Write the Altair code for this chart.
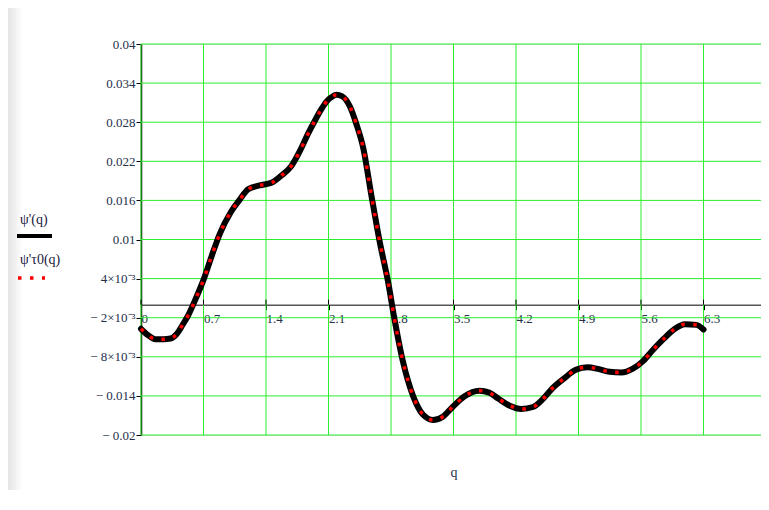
import altair as alt
import pandas as pd

# ---- data ----
q_vals = [0.0, 0.08, 0.16, 0.25, 0.33, 0.40, 0.47, 0.53, 0.60, 0.70, 0.79, 0.88,
          1.01, 1.11, 1.20, 1.33, 1.46, 1.58, 1.68, 1.78, 1.87, 1.95, 2.02, 2.08,
          2.14, 2.19, 2.25, 2.34, 2.41, 2.49, 2.58, 2.67, 2.77, 2.84, 2.93, 3.05,
          3.16, 3.27, 3.38, 3.49, 3.62, 3.79, 3.90, 4.00, 4.13, 4.26, 4.39, 4.50,
          4.61, 4.74, 4.87, 5.00, 5.13, 5.25, 5.38, 5.51, 5.62, 5.73, 5.85, 5.98,
          6.09, 6.22, 6.30]
psi_vals = [-0.0037, -0.0047, -0.0053, -0.0053, -0.0052, -0.0045, -0.0030, -0.0016,
            0.0005, 0.0038, 0.0074, 0.0108, 0.0143, 0.0162, 0.0177, 0.0183, 0.0187,
            0.0199, 0.0212, 0.0236, 0.0262, 0.0283, 0.0300, 0.0312, 0.0319, 0.0322,
            0.0320, 0.0304, 0.0278, 0.0240, 0.0168, 0.0099, 0.0033, -0.0023, -0.0085,
            -0.0141, -0.0169, -0.0177, -0.0172, -0.0157, -0.0141, -0.0132, -0.0135,
            -0.0144, -0.0155, -0.0160, -0.0157, -0.0145, -0.0128, -0.0113, -0.0100,
            -0.0096, -0.0099, -0.0103, -0.0104, -0.0098, -0.0087, -0.0070, -0.0053,
            -0.0037, -0.0030, -0.0031, -0.0038]

x_ticks = [0, 0.7, 1.4, 2.1, 2.8, 3.5, 4.2, 4.9, 5.6, 6.3, 7.0]
x_tick_labels = ["0", "0.7", "1.4", "2.1", "2.8", "3.5", "4.2", "4.9", "5.6", "6.3", "7"]
y_ticks = [0.04, 0.034, 0.028, 0.022, 0.016, 0.01, 0.004, -0.002, -0.008, -0.014, -0.02]
y_tick_labels = ["0.04", "0.034", "0.028", "0.022", "0.016", "0.01",
                 "4\u00d710\u207b\u00b3", "\u2212 2\u00d710\u207b\u00b3",
                 "\u2212 8\u00d710\u207b\u00b3", "\u2212 0.014", "\u2212 0.02"]
legend_labels = ["\u03c8'(q)", "\u03c8'\u03c40(q)"]
x_title = "q"

# ---- layout ----
W, H = 625, 391
Y0 = H * 0.04 / 0.06          # pixel row of psi = 0 inside the plot
FONT = "Liberation Serif"
LABEL_COLOR = "#24304a"
GRID = "#2bef2b"

def label_expr(vals, labels):
    expr = "''"
    for v, l in reversed(list(zip(vals, labels))):
        expr = f"abs(datum.value - ({v})) < 1e-6 ? '{l}' : ({expr})"
    return expr

df = pd.DataFrame({"q": q_vals, "psi": psi_vals})
xg = pd.DataFrame({"q": x_ticks})
yg = pd.DataFrame({"psi": y_ticks})
one = pd.DataFrame({"a": [0]})

xscale = alt.Scale(domain=[0, 7], nice=False, zero=False)
yscale = alt.Scale(domain=[-0.02, 0.04], nice=False, zero=False)

xaxis = alt.Axis(values=x_ticks, labelExpr=label_expr(x_ticks, x_tick_labels),
                 offset=-(H - Y0), grid=False, domainColor="black",
                 domainWidth=1, tickColor="black", tickSize=5,
                 labelAlign="left", labelBaseline="top", labelPadding=3,
                 labelFlush=False, labelOverlap=False, labelBound=False,
                 labelFont=FONT, labelFontSize=13, labelColor=LABEL_COLOR,
                 title=x_title, titleFont=FONT, titleFontSize=14,
                 titleFontWeight="normal", titleColor=LABEL_COLOR,
                 titleY=(H - Y0) + 37, titleBaseline="middle")
yaxis = alt.Axis(values=y_ticks, labelExpr=label_expr(y_ticks, y_tick_labels),
                 grid=False, domainColor="black", domainWidth=1.5,
                 tickColor="black", tickSize=5, labelPadding=1,
                 labelFlush=False, labelOverlap=False, labelBound=False,
                 labelFont=FONT, labelFontSize=13, labelColor=LABEL_COLOR,
                 title=None)

X = alt.X("q:Q", scale=xscale, axis=xaxis)
Y = alt.Y("psi:Q", scale=yscale, axis=yaxis)

vgrid = alt.Chart(xg).mark_rule(color=GRID, strokeWidth=1).encode(x=X)
hgrid = alt.Chart(yg).mark_rule(color=GRID, strokeWidth=1).encode(y=Y)
# short tick marks crossing the zero axis (above the line)
xticks_up = alt.Chart(xg).mark_rule(color="black", strokeWidth=1).encode(
    x=X, y=alt.value(Y0 - 5), y2=alt.value(Y0))

black = alt.Chart(df).mark_line(color="black", strokeWidth=6,
                                interpolate="monotone", strokeCap="round").encode(
    x=X, y=Y, order="q:Q")
red = alt.Chart(df).mark_line(color="#ff0000", strokeWidth=3.5,
                              strokeDash=[3.5, 8.5], interpolate="monotone").encode(
    x=X, y=Y, order="q:Q")

shade = alt.Chart(one).mark_rect(
    color=alt.Gradient(gradient="linear",
                       stops=[alt.GradientStop(color="#e4e4e4", offset=0),
                              alt.GradientStop(color="#ffffff", offset=1)],
                       x1=0, x2=1, y1=0, y2=0)).encode(
    x=alt.value(-133), x2=alt.value(-118), y=alt.value(-36), y2=alt.value(460))

leg1 = alt.Chart(one).mark_text(text=legend_labels[0], font=FONT, fontSize=14,
                                align="left", baseline="middle", color="#1a2040").encode(
    x=alt.value(-121), y=alt.value(176))
leg1line = alt.Chart(one).mark_rule(color="black", strokeWidth=4).encode(
    x=alt.value(-124), x2=alt.value(-89), y=alt.value(192))
leg2 = alt.Chart(one).mark_text(text=legend_labels[1], font=FONT, fontSize=14,
                                align="left", baseline="middle", color="#1a2040").encode(
    x=alt.value(-121), y=alt.value(216))
leg2line = alt.Chart(one).mark_rule(color="#ff0000", strokeWidth=3.5,
                                    strokeDash=[3.5, 8.5]).encode(
    x=alt.value(-123), x2=alt.value(-96), y=alt.value(234))

chart = alt.layer(vgrid, hgrid, xticks_up, black, red, shade, leg1, leg1line, leg2, leg2line).properties(
    width=W, height=H,
    autosize=alt.AutoSizeParams(type="none"),
    padding={"left": 133, "top": 36, "right": -5, "bottom": 55},
).configure_view(stroke=None).configure(background="white")

chart.save("out.html", embed_options={"renderer": "svg", "actions": False})
